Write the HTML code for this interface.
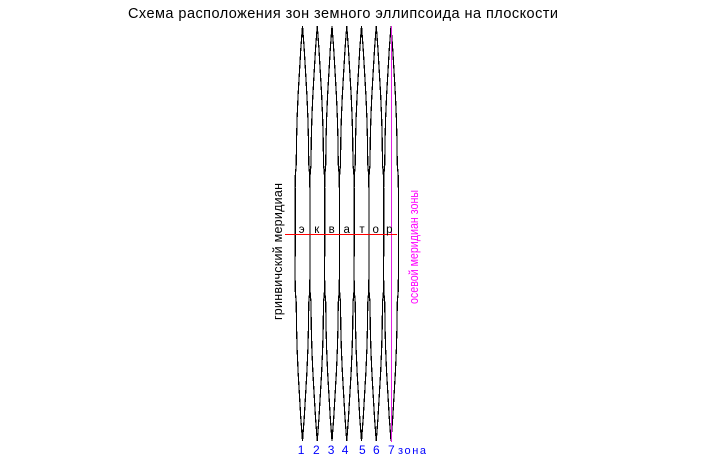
<!DOCTYPE html>
<html lang="ru">
<head>
<meta charset="utf-8">
<title>Схема расположения зон земного эллипсоида на плоскости</title>
<style>
html,body{margin:0;padding:0;background:#fff;width:706px;height:467px;overflow:hidden}
svg{display:block;font-family:"Liberation Sans",Arial,sans-serif}
</style>
</head>
<body>
<svg id="chart" width="706" height="467" viewBox="0 0 706 467" xmlns="http://www.w3.org/2000/svg">
<text x="128" y="18" font-size="14.5" textLength="430" lengthAdjust="spacing" fill="#000">Схема расположения зон земного эллипсоида на плоскости</text>
<text transform="translate(282,320) rotate(-90)" font-size="12.5" textLength="137" lengthAdjust="spacing" fill="#000">гринвичский меридиан</text>
<text transform="translate(418,304) rotate(-90)" font-size="13" textLength="114" lengthAdjust="spacingAndGlyphs" fill="#ff00ff">осевой меридиан зоны</text>
<text x="398" y="454" font-size="11" textLength="28" lengthAdjust="spacing" fill="#0000ff">зона</text>
<g id="lobes"></g>
<g id="labels"></g>
</svg>
<script>
const zones = [1, 2, 3, 4, 5, 6, 7];
const latitudes = [-90, -80, -70, -60, -50, -40, -30, -25, -20, -10, 0, 10, 20, 25, 30, 40, 50, 60, 70, 80, 90];
const halfWidths = [0, 0.7, 1.25, 1.8, 2.2, 2.45, 2.55, 2.95, 3, 3, 3, 3, 3, 2.95, 2.55, 2.45, 2.2, 1.8, 1.25, 0.7, 0];
const equatorLetters = ["э", "к", "в", "а", "т", "о", "р"];
const labelOffsets = [-4.8, -4.25, -4.3, -5, -2.5, -3.25, -3];
const letterOffsets = [-0.8, -0.5, -0.3, 0, 0.5, -0.5, -1.7];

const lobes = document.getElementById('lobes');
const labels = document.getElementById('labels');
const NS = 'http://www.w3.org/2000/svg';

function yScale(lat) { return 233.5 - lat * 2.3056; }
function zoneCenter(z) { return 302.5 + (z - 1) * 14.75; }
function xScale(z, degrees) { return zoneCenter(z) + degrees * 2.45; }

function edgePoints(z, sign) {
  return latitudes.map(function (lat, i) {
    return xScale(z, sign * halfWidths[i]) + ',' + yScale(lat);
  }).join(' ');
}

zones.forEach(function (z, i) {
  [-1, 1].forEach(function (sign) {
    const line = document.createElementNS(NS, 'polyline');
    
    
    line.setAttribute('points', edgePoints(z, sign));
    line.setAttribute('fill', 'none');
    line.setAttribute('stroke', '#000');
    line.setAttribute('stroke-width', '1.2');
    line.setAttribute('shape-rendering', 'crispEdges');
    lobes.appendChild(line);
  });

  const num = document.createElementNS(NS, 'text');
  
  
  num.setAttribute('x', zoneCenter(z) + labelOffsets[i]);
  num.setAttribute('y', 454);
  num.setAttribute('font-size', '12');
  num.setAttribute('fill', '#0000ff');
  num.textContent = String(z);
  labels.appendChild(num);

  const letter = document.createElementNS(NS, 'text');
  
  
  letter.setAttribute('x', zoneCenter(z) + letterOffsets[i]);
  letter.setAttribute('y', 233);
  letter.setAttribute('font-size', '11.5');
  letter.setAttribute('fill', '#000');
  letter.setAttribute('text-anchor', 'middle');
  letter.textContent = equatorLetters[i];
  labels.appendChild(letter);
});

const axial = document.createElementNS(NS, 'line');


axial.setAttribute('x1', 391.5);
axial.setAttribute('x2', 391.5);
axial.setAttribute('y1', yScale(90));
axial.setAttribute('y2', 442);
axial.setAttribute('stroke', '#e020e0');
axial.setAttribute('shape-rendering', 'crispEdges');
lobes.appendChild(axial);

const equator = document.createElementNS(NS, 'line');


equator.setAttribute('x1', 285);
equator.setAttribute('x2', 397);
equator.setAttribute('y1', 234.5);
equator.setAttribute('y2', 234.5);
equator.setAttribute('stroke', '#ff0000');
equator.setAttribute('shape-rendering', 'crispEdges');
lobes.appendChild(equator);
</script>
</body>
</html>
